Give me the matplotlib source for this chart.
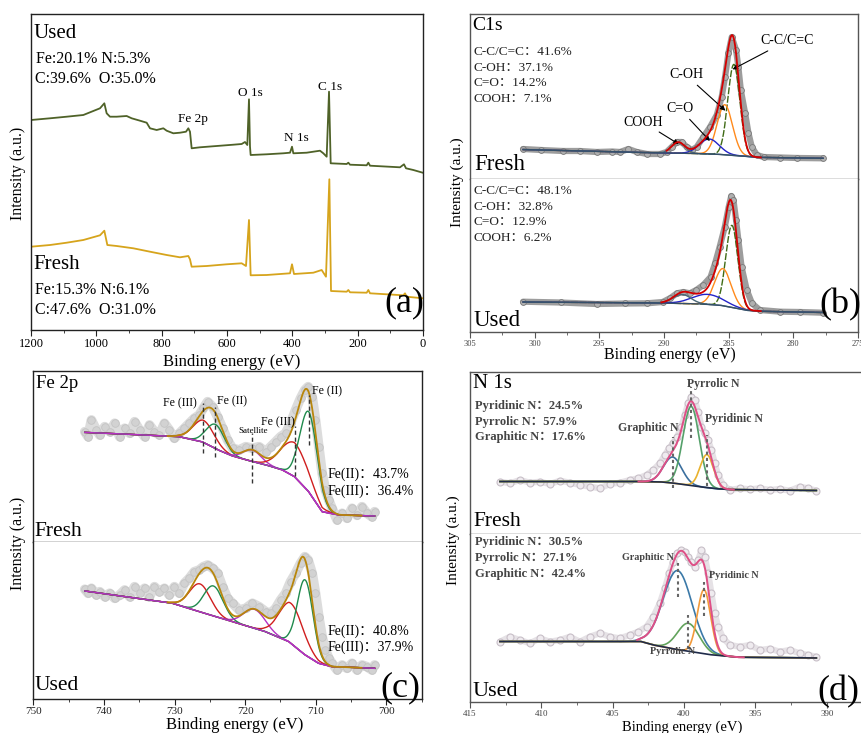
import numpy as np
import matplotlib
matplotlib.use("Agg")
import matplotlib.pyplot as plt
from matplotlib.ticker import MultipleLocator

plt.rcParams["font.family"] = ["Liberation Serif", "Noto Sans CJK SC", "DejaVu Sans"]

# ------------------------------------------------------------------ data
# (a) survey spectra: binding energy (eV) and intensity (a.u.)
survey_used_be = [1200, 1141.8, 1090.8, 1039.8, 988.8, 975.5, 968.4, 958.2, 937.8, 907.1,
                  891.8, 866.3, 845.9, 835.7, 815.3, 794.9, 784.7, 764.3, 743.9, 725.5,
                  718.4, 713.3, 708.2, 682.6, 631.6, 580.6, 555.1, 544.9, 537.8, 532.7,
                  529.6, 527.6, 478.6, 427.6, 407.1, 401.0, 396.9, 356.1, 315.3, 305.1,
                  294.9, 287.7, 282.6, 233.6, 228.5, 223.5, 172.4, 167.3, 162.2, 70.4,
                  58.2, 52.0, 29.6, 0.9]
survey_used_i = [210, 211.7, 213.3, 215, 221.7, 226.7, 216.7, 213.3, 213.3, 214,
                 211.7, 209.3, 207.3, 201.7, 200, 201.7, 199.3, 196.7, 197.3, 198.3,
                 201.7, 198.3, 181.7, 182.7, 184, 185.3, 186, 188, 185, 230.7,
                 183.3, 175, 175.7, 176.7, 177.3, 183.3, 176.7, 177.3, 179.3, 176.7,
                 173.3, 238.3, 166.7, 166, 167.3, 165.3, 164.7, 167.3, 164.3, 162.7,
                 165.7, 161.7, 160, 157.3]
survey_fresh_be = [1200, 1141.8, 1090.8, 1039.8, 988.8, 975.5, 966.3, 937.8, 886.7, 835.7,
                   784.7, 743.9, 718.4, 713.3, 708.2, 662.2, 601.0, 555.1, 541.9, 532.7,
                   527.6, 478.6, 407.1, 401.0, 394.9, 335.7, 310.2, 297.0, 286.7, 281.6,
                   233.6, 228.5, 223.5, 172.4, 167.3, 162.2, 60.2, 55.1, 50.0, 0.9]
survey_fresh_i = [83.3, 85, 87.3, 90, 94.7, 99.3, 85, 84, 81.7, 78.3,
                  75, 72.7, 74, 70.7, 63.3, 64, 65.7, 66.7, 64, 110,
                  54.7, 55, 56.7, 65.7, 56, 57.3, 60, 53.3, 150.7, 39,
                  38.3, 40, 37.7, 37.3, 40, 36.7, 34.7, 36.7, 33.3, 31.7]
survey_peak_names = ["Fe 2p", "O 1s", "N 1s", "C 1s"]

# (b) C 1s
c1s_fresh_be = [300.9, 299.5, 297.8, 296.5, 295.2, 294.0, 293.4, 292.75, 292.1, 291.3,
                290.3, 289.8, 289.4, 289.0, 288.63, 288.24, 287.85, 287.47, 286.96, 286.44,
                285.92, 285.54, 285.28, 285.02, 284.76, 284.43, 284.25, 284.06, 283.73, 283.47,
                283.21, 282.82, 282.3, 281.0, 279.7, 277.7]
c1s_fresh_i = [30, 29, 28, 28, 27, 27.5, 27, 30, 27, 25,
               25, 27, 32, 37, 37, 32, 29, 32, 42, 52,
               64, 82, 102, 126, 142, 129, 112, 89, 66, 46,
               32, 24, 22, 21.5, 21, 20.7]
c1s_fresh_bg_be = [301, 290, 287.5, 285.5, 284.5, 283.5, 282.5, 277.6]
c1s_fresh_bg_i = [29.5, 26, 25.5, 24.5, 23.5, 22.5, 21.5, 20.7]
c1s_names = ["C-C/C=C", "C-OH", "C=O", "COOH"]
c1s_fresh_center = [284.6, 285.3, 286.5, 288.9]
c1s_fresh_height = [91, 50, 15, 11]
c1s_fresh_fwhm = [1.1, 1.4, 1.8, 1.2]
c1s_fresh_pct = [41.6, 37.1, 14.2, 7.1]

c1s_used_be = [300.9, 298.0, 295.2, 293.0, 291.3, 290.1, 289.5, 289.0, 288.5, 288.0,
               287.5, 286.96, 286.4, 286.05, 285.7, 285.3, 285.0, 284.8, 284.63, 284.43,
               284.25, 284.0, 283.6, 283.2, 282.6, 281.0, 279.5, 277.7]
c1s_used_i = [30.3, 29.5, 28, 28.5, 28.7, 30, 34, 38.7, 40, 38.7,
              42, 47, 55, 68.7, 85, 105, 125, 136, 132, 112,
              92, 65, 42, 28.7, 22, 20.3, 20, 19.3]
c1s_used_bg_be = [301, 290, 287, 285.5, 284.5, 283.5, 282, 277.6]
c1s_used_bg_i = [30, 29, 28, 26.5, 24, 21.5, 20.5, 19.5]
c1s_used_center = [284.75, 285.45, 286.6, 288.6]
c1s_used_height = [82, 37, 10, 9]
c1s_used_fwhm = [1.1, 1.5, 2.8, 1.6]
c1s_used_pct = [48.1, 32.8, 12.9, 6.2]

# (c) Fe 2p
fe_be = [742.71, 742.24, 741.77, 741.07, 740.60, 739.89, 739.19, 738.48, 737.78, 737.07,
         736.37, 735.66, 734.96, 734.25, 733.55, 732.84, 732.14, 731.43, 730.73, 730.02,
         729.32, 728.61, 727.91, 727.20, 726.50, 725.93, 725.32, 724.61, 723.91, 723.20,
         722.50, 721.79, 720.85, 719.91, 718.97, 718.03, 717.09, 716.39, 715.68, 714.98,
         714.27, 713.57, 712.86, 712.16, 711.55, 711.08, 710.51, 710.04, 709.57, 709.10,
         708.63, 708.16, 707.69, 706.99, 706.28, 705.58, 704.87, 704.17, 703.46, 702.76,
         702.05, 701.67]
fe_fresh_i = [110.3, 105.3, 122, 112, 107, 115.3, 110.3, 118.7, 105.3, 113.7,
              108.7, 120.3, 112, 105.3, 117, 110.3, 107, 118.7, 112, 103.7,
              108.7, 113.7, 118.7, 123.7, 127, 133.7, 140.3, 135.3, 125.3, 113.7,
              102, 93.7, 92, 95.3, 93.7, 95.3, 90.3, 95.3, 100.3, 105.3,
              108.7, 118.7, 132, 143.7, 152, 155.3, 145.3, 122, 95.3, 68.7,
              52, 42, 33.7, 22, 28.7, 23.7, 33.7, 26.7, 35.3, 28.7,
              25.3, 30.3]
fe_used_i = [109.7, 105.7, 110.7, 104, 107.3, 102.3, 105.7, 100.7, 104, 109,
             102.3, 112.3, 105.7, 110.7, 102.3, 112.3, 107.3, 110.7, 104, 112.3,
             105.7, 115.7, 120.7, 127.3, 129, 132.3, 134, 130.7, 125.7, 112.3,
             100.7, 95.7, 89, 90.7, 95.7, 92.3, 87.3, 85.7, 90.7, 99,
             105.7, 117.3, 125.7, 135.7, 142.3, 139, 125.7, 105.7, 82.3, 62.3,
             49, 40.7, 35.7, 29, 34, 30.7, 35.7, 29, 34, 32.3,
             29, 34]
fe_fresh_bg_be = [743, 735, 729.3, 726, 723.5, 721.8, 719, 716.5, 714.7, 713, 711, 709.1, 706.7, 701.6]
fe_fresh_bg_i = [109.7, 107.3, 105.3, 100, 91, 86, 80.5, 76, 72, 65.3, 50.3, 30.3, 27, 26]
fe_used_bg_be = [743, 730.25, 726.5, 721.8, 717.1, 713.8, 711.5, 709.6, 707.7, 701.6]
fe_used_bg_i = [108.3, 95.7, 87.3, 77.3, 67.3, 57.3, 44, 35.7, 32.3, 30.7]
fe_names = ["Fe (III)", "Fe (II)", "Satellite", "Fe (III)", "Fe (II)"]
fe_fresh_center = [725.9, 724.2, 719.0, 713.0, 711.0]
fe_fresh_height = [22, 24, 11.5, 34, 80]
fe_fresh_fwhm = [3.5, 3.0, 3.0, 4.5, 2.9]
fe_used_center = [726.4, 724.5, 718.7, 713.5, 711.5]
fe_used_height = [28, 30, 19, 40, 75]
fe_used_fwhm = [3.5, 3.2, 3.6, 4.0, 2.6]
fe_fresh_pct = [43.7, 36.4]   # Fe(II), Fe(III)
fe_used_pct = [40.8, 37.9]

# (d) N 1s
n_be = [412.90, 412.20, 411.50, 410.80, 410.10, 409.40, 408.70, 408.00, 407.30, 406.60,
        405.90, 405.20, 404.50, 403.80, 403.21, 402.63, 402.16, 401.70, 401.35, 401.04,
        400.76, 400.48, 400.18, 399.95, 399.71, 399.48, 399.25, 399.01, 398.78, 398.55,
        398.31, 398.08, 397.85, 397.61, 397.26, 396.79, 396.09, 395.39, 394.69, 393.99,
        393.29, 392.59, 391.89, 391.31, 390.73]
n_fresh_i = [52.3, 50.7, 54, 51.3, 52.3, 50, 53.3, 51.3, 49, 47.3,
             45.7, 50, 51.3, 54, 55.7, 59, 64, 70.7, 79, 85.7,
             91.3, 97.3, 107.3, 119, 130.7, 137.3, 134, 122.3, 107.3, 100.7,
             94, 84, 70.7, 59, 49, 44, 45.7, 44.7, 45.7, 44,
             45, 43.3, 47.3, 45.7, 43.3]
n_used_i = [60.3, 65.3, 62, 58.7, 63.7, 60.3, 62, 65.3, 60.3, 65.3,
            68.7, 65.3, 63.7, 67, 70.3, 75.3, 85.3, 98.7, 113.7, 128.7,
            140.3, 148.7, 152, 150.3, 145.3, 140.3, 135.3, 142, 152, 145.3,
            128.7, 108.7, 88.7, 75.3, 63.7, 57, 55.3, 57, 52, 53.3,
            50.3, 52, 48.7, 47, 45.3]
n_fresh_bg_be = [413, 403, 401.5, 400.5, 399.5, 398.5, 397.5, 396.5, 390.6]
n_fresh_bg_i = [52.5, 52.5, 52, 50.5, 48.5, 46.5, 45, 44.3, 43.5]
n_used_bg_be = [413, 403, 402, 400.3, 398, 396.1, 390.6]
n_used_bg_i = [60.5, 60.5, 56.5, 52, 47, 44.7, 44]
n_names = ["Graphitic N", "Pyrrolic N", "Pyridinic N"]
n_fresh_center = [400.8, 399.5, 398.4]
n_fresh_height = [26, 79, 33]
n_fresh_fwhm = [1.5, 1.35, 1.1]
n_used_center = [400.45, 399.7, 398.6]
n_used_height = [79, 28, 64]
n_used_fwhm = [2.4, 1.8, 1.1]
n_fresh_pct = [24.5, 57.9, 17.6]   # Pyridinic, Pyrrolic, Graphitic
n_used_pct = [30.5, 27.1, 42.4]

# ------------------------------------------------------------------ figure
W, H = 861, 733
fig = plt.figure(figsize=(W / 100, H / 100), dpi=100)


def rect(x0, y0, x1, y1):
    return [x0 / W, 1 - y1 / H, (x1 - x0) / W, (y1 - y0) / H]


def ftext(x, y, s, size=9, ha="left", va="center", **kw):
    fig.text(x / W, 1 - y / H, s, fontsize=size, ha=ha, va=va, **kw)


def gauss(x, c, h, w):
    return h * np.exp(-4 * np.log(2) * ((x - c) / w) ** 2)


def style(ax, xlim, ylim, major, minor, show_x, spine="#333333", lsize=7, lcolor="black"):
    ax.set_xlim(*xlim)
    ax.set_ylim(*ylim)
    ax.set_yticks([])
    for s in ax.spines.values():
        s.set_color(spine)
        s.set_linewidth(1.0)
    if show_x:
        ax.xaxis.set_major_locator(MultipleLocator(major))
        ax.xaxis.set_minor_locator(MultipleLocator(minor))
        ax.tick_params(axis="x", which="major", direction="out", length=4, width=0.8,
                       colors=spine, labelsize=lsize, labelcolor=lcolor, pad=2)
        ax.tick_params(axis="x", which="minor", direction="out", length=2, width=0.6,
                       colors=spine)
    else:
        ax.set_xticks([])


def draw_fit(ax, sc_be, sc_i, bg_be, bg_i, cen, hgt, fw, colors, styles, env_color,
             env_range, bg_color, band, marker, bg_z=3.5, comp_lw=1.0, env_lw=1.3):
    x = np.linspace(min(sc_be), max(sc_be), 1200)
    bg = np.interp(x, bg_be[::-1], bg_i[::-1])
    ax.plot(sc_be, sc_i, zorder=1, solid_capstyle="round", solid_joinstyle="round", **band)
    ax.plot(sc_be, sc_i, ls="none", marker="o", zorder=1.5, **marker)
    total = bg.copy()
    for c, h, w, col, ls in zip(cen, hgt, fw, colors, styles):
        g = gauss(x, c, h, w)
        total = total + g
        ax.plot(x, bg + g, color=col, lw=comp_lw, ls=ls, zorder=3)
    ax.plot(x, bg, color=bg_color, lw=comp_lw, zorder=bg_z)
    m = (x <= env_range[0]) & (x >= env_range[1])
    ax.plot(x[m], total[m], color=env_color, lw=env_lw, zorder=4)
    return x, bg, total


# ---------------- (a) survey
axa = fig.add_axes(rect(31, 14, 423, 330))
style(axa, (1200, 0), (0, 316), 200, 100, True, spine="#222222", lsize=9)
axa.plot(survey_used_be, survey_used_i, color="#4f6228", lw=1.3)
axa.plot(survey_fresh_be, survey_fresh_i, color="#d6a41c", lw=1.3)
ftext(34, 33, "Used", 15)
ftext(36, 59, "Fe:20.1% N:5.3%", 11.5)
ftext(35, 79, "C:39.6%  O:35.0%", 11.5)
ftext(33, 265, "Fresh", 15)
ftext(35, 290, "Fe:15.3% N:6.1%", 11.5)
ftext(35, 310, "C:47.6%  O:31.0%", 11.5)
for name, px, py in zip(survey_peak_names, [193, 250, 296, 330], [119, 93, 138, 87]):
    ftext(px, py, name, 9.5, ha="center")
ftext(404, 303, "(a)", 26, ha="center")
ftext(18, 173, "Intensity (a.u.)", 11.5, ha="center", rotation=90)
ftext(232, 362, "Binding energy (eV)", 12, ha="center")

# ---------------- (b) C 1s
c1s_colors = ["#3f6b16", "#ff8a1c", "#2323c8", "#4a6878"]
c1s_styles = [(0, (5, 1.2)), "-", "-", "-"]
band_b = dict(color="#9d9d9d", lw=4.5)
mk_b = dict(ms=4.2, mfc="#b0b0b0", mec="#787878", mew=0.6)
axb1 = fig.add_axes(rect(470, 14, 858, 179))
axb2 = fig.add_axes(rect(470, 179, 858, 332))
style(axb1, (305, 275), (0, 165), 5, 2.5, False, spine="#555555")
style(axb2, (305, 275), (0, 153), 5, 2.5, True, spine="#555555", lsize=6, lcolor="#444444")
axb2.spines["top"].set_visible(False)
draw_fit(axb1, c1s_fresh_be, c1s_fresh_i, c1s_fresh_bg_be, c1s_fresh_bg_i, c1s_fresh_center,
         c1s_fresh_height, c1s_fresh_fwhm, c1s_colors, c1s_styles, "#d40000", (289.8, 282.5),
         "#35506a", band_b, mk_b)
draw_fit(axb2, c1s_used_be, c1s_used_i, c1s_used_bg_be, c1s_used_bg_i, c1s_used_center,
         c1s_used_height, c1s_used_fwhm, c1s_colors, c1s_styles, "#d40000", (290.2, 282.5),
         "#35506a", band_b, mk_b)
ftext(472, 26, "C1s", 14)
for k, (nm, p) in enumerate(zip(c1s_names, c1s_fresh_pct)):
    ftext(473, 52 + 15.7 * k, f"{nm}：{p}%", 9.5, color="#222222")
for k, (nm, p) in enumerate(zip(c1s_names, c1s_used_pct)):
    ftext(473, 191 + 15.7 * k, f"{nm}：{p}%", 9.5, color="#222222")
ftext(474, 165, "Fresh", 16.5)
ftext(474, 321, "Used", 16.5)
ftext(840, 305, "(b)", 26, ha="center")
ftext(457, 182, "Intensity (a.u.)", 11, ha="center", rotation=90)
ftext(670, 355, "Binding energy (eV)", 11.5, ha="center")
arrow = dict(arrowstyle="-|>", color="black", lw=0.8, mutation_scale=7, shrinkA=1, shrinkB=0)
ann_text_px = [(760, 41, "left"), (686, 75, "center"), (680, 109, "center"), (643, 122, "center")]
ann_tip_dy = [5, 6, 2, 2]
for k, nm in enumerate(c1s_names):
    tx, ty, ha = ann_text_px[k]
    c = c1s_fresh_center[k]
    tip_i = np.interp(c, c1s_fresh_bg_be[::-1], c1s_fresh_bg_i[::-1]) + c1s_fresh_height[k] - ann_tip_dy[k]
    axb1.annotate(nm, xy=(c + (0.1 if k == 0 else -0.05), tip_i), xycoords="data",
                  xytext=(tx / W, 1 - ty / H), textcoords="figure fraction",
                  ha=ha, va="center", fontsize=10, arrowprops=arrow)

# ---------------- (c) Fe 2p
fe_colors = ["#d01e1e", "#1f8a4c", "#b52fc4", "#d01e1e", "#1f8a4c"]
fe_styles = ["-"] * 5
band_c = dict(color="#dcdcdc", lw=7)
mk_c = dict(ms=5.5, mfc="#d2d2d2", mec="#c4c4c4", mew=0.6)
axc1 = fig.add_axes(rect(33.3, 371, 421.7, 542))
axc2 = fig.add_axes(rect(33.3, 542, 421.7, 699))
style(axc1, (750, 695), (0, 171), 10, 5, False, spine="#222222")
style(axc2, (750, 695), (0, 157), 10, 5, True, spine="#222222", lsize=8, lcolor="#222222")
axc2.spines["top"].set_visible(False)
draw_fit(axc1, fe_be, fe_fresh_i, fe_fresh_bg_be, fe_fresh_bg_i, fe_fresh_center,
         fe_fresh_height, fe_fresh_fwhm, fe_colors, fe_styles, "#b8860b",
         (731, 703.5), "#b52fc4", band_c, mk_c)
draw_fit(axc2, fe_be, fe_used_i, fe_used_bg_be, fe_used_bg_i, fe_used_center,
         fe_used_height, fe_used_fwhm, fe_colors, fe_styles, "#b8860b",
         (731, 703.5), "#b52fc4", band_c, mk_c)
for c, h in zip(fe_fresh_center, fe_fresh_height):
    peak = np.interp(c, fe_fresh_bg_be[::-1], fe_fresh_bg_i[::-1]) + h
    axc1.plot([c, c], [peak - 33, peak + 17], color="#333333", lw=1.0, ls=(0, (3, 2)), zorder=5)
ftext(36, 383, "Fe 2p", 13.5)
ftext(180, 403, "Fe (III)", 8.5, ha="center")
ftext(232, 401, "Fe (II)", 8.5, ha="center")
ftext(253, 431, "Satellite", 6.5, ha="center")
ftext(278, 422, "Fe (III)", 8.5, ha="center")
ftext(312, 391, "Fe (II)", 8.5, ha="left")
ftext(328, 474, f"Fe(II)：{fe_fresh_pct[0]}%", 10)
ftext(328, 491, f"Fe(III)：{fe_fresh_pct[1]}%", 10)
ftext(328, 631, f"Fe(II)：{fe_used_pct[0]}%", 10)
ftext(328, 647, f"Fe(III)：{fe_used_pct[1]}%", 10)
ftext(34, 531, "Fresh", 15.5)
ftext(35, 686, "Used", 15.5)
ftext(400, 688, "(c)", 26, ha="center")
ftext(18, 543, "Intensity (a.u.)", 11.5, ha="center", rotation=90)
ftext(235, 725, "Binding energy (eV)", 12, ha="center")

# ---------------- (d) N 1s
n_colors_fresh = ["#3b6f9e", "#55a06a", "#e9b22e"]
n_colors_used = ["#3b79a8", "#62a35c", "#f29a3a"]
n_styles = ["-"] * 3
band_d = dict(color="#e6e2e6", lw=4.5)
mk_d = dict(ms=5, mfc="#efebef", mec="#c8c0c8", mew=0.8)
axd1 = fig.add_axes(rect(470, 372, 861, 534))
axd2 = fig.add_axes(rect(470, 534, 861, 702))
style(axd1, (415, 387.6), (0, 162), 5, 2.5, False, spine="#555555")
style(axd2, (415, 387.6), (0, 168), 5, 2.5, True, spine="#555555", lsize=6.5, lcolor="#444444")
axd2.spines["top"].set_visible(False)
for a in (axd1, axd2):
    a.spines["right"].set_visible(False)
draw_fit(axd1, n_be, n_fresh_i, n_fresh_bg_be, n_fresh_bg_i, n_fresh_center, n_fresh_height,
         n_fresh_fwhm, n_colors_fresh, n_styles, "#de4f86", (403.2, 396.5), "#1f2b4a",
         band_d, mk_d, comp_lw=1.2, env_lw=1.4)
draw_fit(axd2, n_be, n_used_i, n_used_bg_be, n_used_bg_i, n_used_center, n_used_height,
         n_used_fwhm, n_colors_used, n_styles, "#de4f86", (403.3, 395.8), "#1f2b4a",
         band_d, mk_d, comp_lw=1.2, env_lw=1.4)
for a, cen, hgt, bgb, bgi, dt, db in ((axd1, n_fresh_center, n_fresh_height, n_fresh_bg_be, n_fresh_bg_i, 20, 31),
                                        (axd2, n_used_center, n_used_height, n_used_bg_be, n_used_bg_i, 8, 26)):
    for c, h in zip(cen, hgt):
        peak = np.interp(c, bgb[::-1], bgi[::-1]) + h
        a.plot([c, c], [peak - db, peak + dt], color="#666666", lw=1.5, ls=(0, (1.5, 1.5)), zorder=5)
ftext(473, 383, "N 1s", 15)
n_order = [2, 1, 0]
for k, p in enumerate(n_fresh_pct):
    ftext(475, 406 + 15.5 * k, f"{n_names[n_order[k]]}：{p}%", 9, color="#444444", fontweight="bold")
for k, p in enumerate(n_used_pct):
    ftext(475, 542 + 16 * k, f"{n_names[n_order[k]]}：{p}%", 9, color="#444444", fontweight="bold")
ftext(713, 384, "Pyrrolic N", 8.5, ha="center", color="#444444", fontweight="bold")
ftext(705, 419, "Pyridinic N", 8.5, ha="left", color="#444444", fontweight="bold")
ftext(648, 428, "Graphitic N", 8.5, ha="center", color="#444444", fontweight="bold")
ftext(648, 558, "Graphitic N", 7.3, ha="center", color="#444444", fontweight="bold")
ftext(709, 575, "Pyridinic N", 7.3, ha="left", color="#444444", fontweight="bold")
ftext(673, 652, "Pyrrolic N", 7.3, ha="center", color="#444444", fontweight="bold")
ftext(473, 522, "Fresh", 15.5)
ftext(472, 692, "Used", 16)
ftext(838, 692, "(d)", 26, ha="center")
ftext(453, 540, "Intensity (a.u.)", 11, ha="center", rotation=90)
ftext(682, 727, "Binding energy (eV)", 10.5, ha="center")

fig.savefig("out.png", dpi=100, facecolor="white")
